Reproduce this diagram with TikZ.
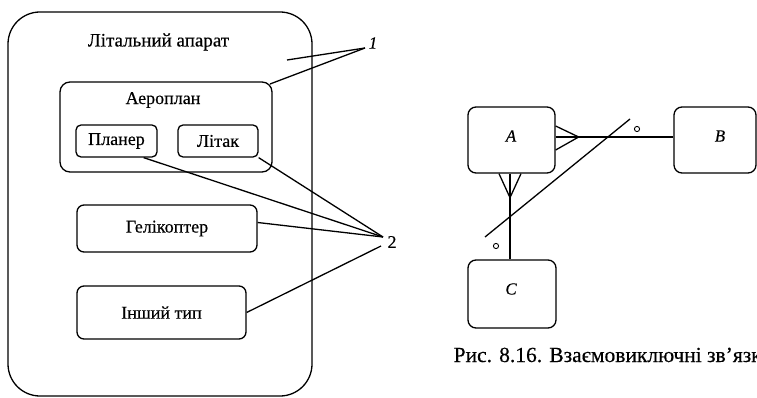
\documentclass[tikz,border=0pt]{standalone}
\usepackage{fontspec}
\setmainfont{Liberation Serif}
\newfontfamily\heavyserif{Liberation Serif}[FakeBold=0.4]
\usetikzlibrary{calc}
\begin{document}
\begin{tikzpicture}[x=1pt,y=-1pt,
  line width=1.3pt,
  box/.style={draw,rectangle,rounded corners=#1,inner sep=0pt},
  box/.default=7pt,
  lbl/.style={font=\heavyserif\fontsize{18}{21}\selectfont,inner sep=0pt},
  ilbl/.style={font=\heavyserif\fontsize{17}{20}\selectfont\itshape,inner sep=0pt},
  lead/.style={line width=1.3pt}]
\useasboundingbox (0,0) rectangle (757,398);
\clip (0,0) rectangle (757,398);

% ---- left: nested entity with subtypes ----
\node[box=32pt,minimum width=304pt,minimum height=384pt] (outer) at (160,204) {};
\node[lbl,font=\heavyserif\fontsize{19}{22}\selectfont] (title) at (158.5,42) {Літальний апарат};
\node[box=10pt,minimum width=212pt,minimum height=90pt] (aero) at (166,127) {};
\node[lbl] (aerot) at (163,100) {Аероплан};
\node[box=5pt,minimum width=81pt,minimum height=32pt,lbl] (planer) at (116.5,141) {Планер};
\node[box=5pt,minimum width=80pt,minimum height=32pt,lbl] (litak) at (218,141) {Літак};
\node[box=7pt,minimum width=180pt,minimum height=47pt,lbl] (heli) at (167,228.5) {Гелікоптер};
\node[box=7pt,minimum width=169pt,minimum height=53pt,lbl] (other) at (161.5,312.5) {Інший тип};

\node[ilbl] (one) at (373,43) {1};
\node[lbl] (two) at (392,242) {2};

\coordinate (p1) at (365,48);
\coordinate (inOuter) at (287,60);
\coordinate (aeroCorner) at (270,84);
\draw[lead] (p1) -- (inOuter);
\draw[lead] (p1) -- (aeroCorner);

\coordinate (p2) at (383,237);
\coordinate (p2b) at (381,246);
\draw[lead] ([xshift=-14pt]planer.south east) -- (p2);
\draw[lead] (litak.south east) -- (p2);
\draw[lead] ([yshift=6pt]heli.east) -- (p2);
\draw[lead] (other.east) -- (p2b);

% ---- right: mutually exclusive relationships ----
\node[box=8pt,minimum width=87pt,minimum height=66pt] (A) at (511.5,140) {};
\node[ilbl] (At) at (511,136) {A};
\node[box=8pt,minimum width=82pt,minimum height=66pt] (B) at (715,140) {};
\node[ilbl] (Bt) at (720,136) {B};
\node[box=8pt,minimum width=88pt,minimum height=68pt] (C) at (512,294) {};
\node[ilbl] (Ct) at (511,289) {C};

\draw ([yshift=3pt]A.east) -- ([yshift=3pt]B.west |- A.east);
\draw ([yshift=14pt]A.east) -- ([xshift=23pt,yshift=3pt]A.east) -- ([yshift=-10pt]A.east);

\coordinate (Abot) at ([xshift=-1.5pt]A.south);
\draw (Abot) -- (Abot |- C.north);
\draw ([xshift=-12.5pt]A.south) -- ([yshift=-24pt]Abot) -- ([xshift=9.5pt]A.south);

\coordinate (d1) at (630,119);
\coordinate (d2) at (485,237);
\draw (d1) -- (d2);
\draw[line width=0.9pt] (637,129) circle (2.6pt);
\draw[line width=0.9pt] (496,246) circle (2.6pt);

\node[lbl,font=\heavyserif\fontsize{21.5}{25}\selectfont,anchor=base west] (cap) at (453,362) {Рис. 8.16. Взаємовиключні зв’язки};
\end{tikzpicture}
\end{document}
